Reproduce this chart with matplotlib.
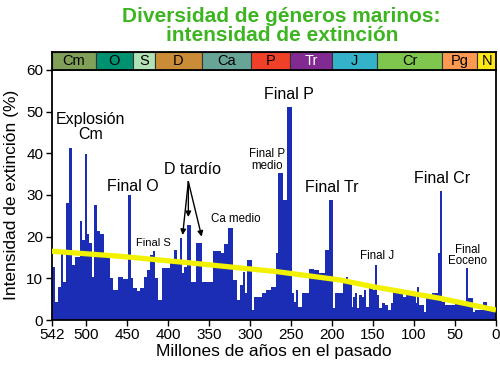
import matplotlib
matplotlib.use("Agg")
import matplotlib.pyplot as plt
from matplotlib.patches import Rectangle

plt.rcParams['font.family'] = ['Liberation Sans', 'DejaVu Sans']

# ---- data ----
# start age (Ma) of each step, and extinction intensity (%)
bin_start_ma = [542, 538, 534, 531, 528.5, 524.5, 520.5, 517, 513.5, 507.5, 505.5, 501.5,
                498.5, 496, 493, 491, 486.5, 483, 478, 471, 467, 461, 455, 448.5, 445.5,
                442.5, 438, 434, 429, 426, 422, 419, 416, 412, 408, 397.5, 392.5, 389.5,
                386, 383.5, 380.5, 377, 372.5, 365.5, 359, 345.5, 336, 331.5, 326.5, 321,
                316, 312, 309, 306, 303.5, 298, 295, 286, 280, 274.5, 268.5, 265.5, 259.5,
                254.5, 249, 246, 244, 241, 237, 227.7, 222, 215.5, 208.5, 203.3, 199.2,
                196.4, 187, 183, 181, 176, 174, 172, 170, 166.7, 163.5, 160.6, 158.6, 154.5,
                150.4, 147.6, 145.5, 142.3, 139, 135.8, 132, 128, 125.3, 122, 113.8, 109.8,
                103.7, 97.6, 96.3, 93.6, 88.2, 85.4, 78, 70.8, 68, 65.5, 61.8, 50, 44, 36.6,
                33.8, 28.4, 25.2, 16.2, 11.3, 5.5]
intensity = [12.8, 4.4, 8.0, 16.0, 9.2, 28.1, 41.4, 13.2, 15.0, 23.7, 19.3, 39.8,
             20.7, 18.5, 10.4, 27.7, 21.3, 20.7, 15.0, 10.0, 7.2, 10.4, 9.8, 30.1, 10.0,
             7.7, 7.0, 7.7, 10.4, 12.0, 15.7, 16.5, 10.0, 4.8, 12.5, 14.0, 16.9, 14.5,
             19.7, 11.3, 12.8, 22.9, 9.2, 18.5, 9.2, 16.5, 16.0, 18.3, 22.1, 9.6,
             4.8, 8.5, 11.6, 6.4, 14.3, 2.4, 5.6, 6.4, 7.2, 8.0, 16.0, 35.3, 28.9,
             51.0, 6.4, 4.4, 7.2, 3.2, 6.4, 12.3, 11.9, 11.3, 16.9, 28.9, 2.8,
             6.4, 9.6, 10.4, 8.8, 3.2, 5.6, 6.4, 2.8, 6.0, 5.6, 7.2, 3.2, 8.0,
             7.2, 13.2, 6.0, 2.8, 4.0, 3.5, 2.4, 4.0, 7.2, 6.8, 5.6, 6.8,
             6.0, 4.0, 7.9, 3.6, 2.0, 5.2, 6.4, 16.0, 30.9, 4.4, 3.6, 4.0, 4.4, 12.4,
             5.2, 2.0, 2.4, 4.4, 2.4, 3.2]
end_ma = 0

# yellow trend line
trend_ma = [542, 459, 373, 267, 190, 150, 109, 68, 0]
trend_val = [16.5, 15.3, 13.7, 11.6, 9.6, 8.0, 6.6, 5.2, 2.4]

# geological periods
period_names = ['Cm', 'O', 'S', 'D', 'Ca', 'P', 'Tr', 'J', 'Cr', 'Pg', 'N']
period_start = [542, 488, 443, 416, 359, 299, 251, 200, 145, 66, 23]
period_end = [488, 443, 416, 359, 299, 251, 200, 145, 66, 23, 0]
period_colors = ['#7FA056', '#009270', '#B3E1B6', '#CB8C37', '#67A599', '#F04028',
                 '#812B92', '#34B2C9', '#7FC64E', '#FD9A52', '#FFE619']
period_text_colors = ['black'] * 6 + ['white'] + ['black'] * 4

x_ticks = [542, 500, 450, 400, 350, 300, 250, 200, 150, 100, 50, 0]
y_ticks = [0, 10, 20, 30, 40, 50, 60]

# annotations: (text, age, value, fontsize)
labels = [
    ('Explosión\nCm', 495, 46.3, 11.5),
    ('Final O', 443.4, 32.0, 11.5),
    ('Final S', 418.4, 18.5, 8),
    ('D tardío', 370.8, 36.2, 11.5),
    ('Ca medio', 317.5, 24.2, 8.3),
    ('Final P\nmedio', 279.7, 38.4, 8.3),
    ('Final P', 252.5, 54.2, 11.5),
    ('Final Tr', 200, 31.8, 11.5),
    ('Final J', 145.2, 15.4, 8.3),
    ('Final Cr', 66.2, 33.9, 11.5),
    ('Final\nEoceno', 34.2, 15.5, 8.3),
]
arrow_start = (375.3, 33.2)
arrow_ends = [(382.3, 20.4), (375.3, 24.7), (359, 20.0)]

# ---- figure ----
W, H = 500, 366
fig = plt.figure(figsize=(W / 100, H / 100), dpi=100)
left, right = 51.7 / W, 496 / W
bottom, top = 1 - 320 / H, 1 - 70 / H
band_top = 1 - 51.7 / H
ax = fig.add_axes([left, bottom, right - left, top - bottom])
bax = fig.add_axes([left, top, right - left, band_top - top], sharex=ax)

edges = bin_start_ma + [end_ma]
vals = intensity + [intensity[-1]]
ax.fill_between(edges, 0, vals, step='post', color='#1b2db4', linewidth=0, zorder=2)

ax.plot(trend_ma, trend_val, color='#f2f200', linewidth=3.8, solid_capstyle='butt', zorder=3)

ax.set_xlim(542, 0)
ax.set_ylim(0, 60)
ax.set_xticks(x_ticks)
ax.set_yticks(y_ticks)
ax.tick_params(direction='out', length=4, width=1, labelsize=11, pad=2)
for s in ax.spines.values():
    s.set_linewidth(1.3)

for txt, xa, ya, fs in labels:
    ax.text(xa, ya, txt, ha='center', va='center', fontsize=fs, linespacing=0.95, zorder=5)

for xe, ye in arrow_ends:
    ax.annotate('', xy=(xe, ye), xytext=arrow_start,
                arrowprops=dict(arrowstyle='-|>', color='black', lw=1.0,
                                mutation_scale=8, shrinkA=0, shrinkB=0), zorder=5)

ax.set_xlabel('Millones de años en el pasado', fontsize=12.5, labelpad=1)
fig.text(12 / W, 1 - 195 / H, 'Intensidad de extinción (%)', rotation=90,
         ha='center', va='center', fontsize=12.5)

# period band
bax.set_ylim(0, 1)
for name, s, e, c, tc in zip(period_names, period_start, period_end, period_colors, period_text_colors):
    bax.add_patch(Rectangle((s, 0), e - s, 1, facecolor=c, edgecolor='#333333', linewidth=0.8))
    bax.text((s + e) / 2, 0.47, name, ha='center', va='center', fontsize=10.5, color=tc)
bax.tick_params(left=False, bottom=False, labelleft=False, labelbottom=False)
for s in bax.spines.values():
    s.set_linewidth(1.3)

fig.text(281.7 / W, 1 - 26 / H, 'Diversidad de géneros marinos:\nintensidad de extinción',
         ha='center', va='center', fontsize=15, fontweight='bold', color='#3cb521',
         linespacing=1.0)

fig.savefig('out.png', dpi=100)
